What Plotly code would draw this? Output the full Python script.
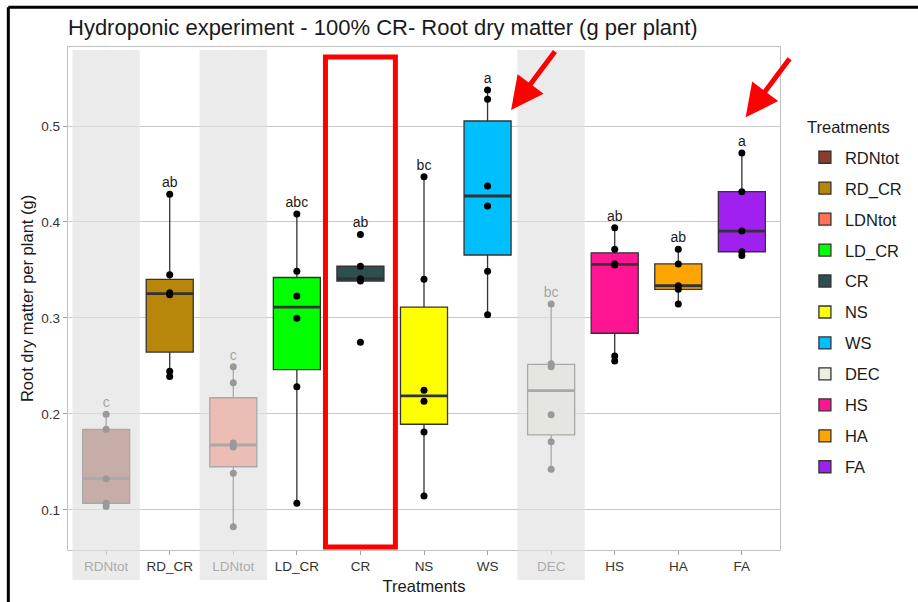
import plotly.graph_objects as go
import numpy as np

categories = ["RDNtot", "RD_CR", "LDNtot", "LD_CR", "CR", "NS", "WS", "DEC", "HS", "HA", "FA"]
rdntot = [0.1035, 0.107, 0.1326, 0.184, 0.1997]
rd_cr = [0.239, 0.2445, 0.3243, 0.3263, 0.345, 0.429]
ldntot = [0.0826, 0.1382, 0.1656, 0.1698, 0.2326, 0.2493]
ld_cr = [0.107, 0.2284, 0.2997, 0.3229, 0.3486, 0.4083]
cr = [0.2747, 0.3385, 0.341, 0.3539, 0.387]
ns = [0.1146, 0.1813, 0.2132, 0.2247, 0.3403, 0.4472]
ws = [0.3034, 0.3486, 0.4167, 0.4375, 0.5278, 0.5375]
dec = [0.1424, 0.1711, 0.1993, 0.2493, 0.2524, 0.3146]
hs = [0.2552, 0.2604, 0.3552, 0.3566, 0.3716, 0.394]
ha = [0.3146, 0.3299, 0.3336, 0.3563, 0.3716]
fa = [0.365, 0.369, 0.3905, 0.4316, 0.4719]
groups = [rdntot, rd_cr, ldntot, ld_cr, cr, ns, ws, dec, hs, ha, fa]
letters = ["c", "ab", "c", "abc", "ab", "bc", "a", "bc", "ab", "ab", "a"]
colors = ["#8B3E2F", "#B8860B", "#FF7256", "#00FF00", "#2F4F4F", "#FFFF00",
          "#00BFFF", "#EEEEE0", "#FF1493", "#FFA500", "#A020F0"]
greyed = ["RDNtot", "LDNtot", "DEC"]
highlight = "CR"
arrow_targets = ["WS", "FA"]

FONT = "Liberation Sans, Arial, sans-serif"
XR = [-0.6, len(categories) - 0.4]
YR = [0.0583, 0.5823]


def box_stats(vals):
    a = np.sort(np.asarray(vals, dtype=float))
    q1, med, q3 = np.percentile(a, [25, 50, 75])
    iqr = q3 - q1
    lo = a[a >= q1 - 1.5 * iqr].min()
    hi = a[a <= q3 + 1.5 * iqr].max()
    return float(q1), float(med), float(q3), float(min(lo, q1)), float(max(hi, q3))


fig = go.Figure()
for cat, vals, col in zip(categories, groups, colors):
    q1, med, q3, lo, hi = box_stats(vals)
    fig.add_trace(go.Box(
        x=[cat], q1=[q1], median=[med], q3=[q3], lowerfence=[lo], upperfence=[hi],
        name=cat, legendgroup=cat,
        fillcolor=col, line=dict(color="#333333", width=1.3),
        whiskerwidth=0, width=0.74, hoverinfo="skip",
    ))

# thick median lines
fig.add_trace(go.Scatter(
    x=categories, y=[box_stats(v)[1] for v in groups], mode="markers",
    marker=dict(symbol="line-ew", size=33.5, line=dict(color="#333333", width=2.8)),
    showlegend=False, hoverinfo="skip",
))
# points
px, py = [], []
for cat, vals in zip(categories, groups):
    px += [cat] * len(vals)
    py += vals
fig.add_trace(go.Scatter(
    x=px, y=py, mode="markers", marker=dict(color="black", size=7),
    showlegend=False, hoverinfo="skip",
))
# letters
fig.add_trace(go.Scatter(
    x=categories, y=[max(v) for v in groups], mode="markers+text",
    text=letters, textposition="top center",
    marker=dict(size=4, opacity=0),
    textfont=dict(family=FONT, size=14, color="#1a1a1a"),
    showlegend=False, hoverinfo="skip",
))


def xpaper(v):
    return (v - XR[0]) / (XR[1] - XR[0])


shapes = []
for cat in greyed:
    i = categories.index(cat)
    shapes.append(dict(type="rect", xref="paper", yref="paper",
                       x0=xpaper(i - 0.53), x1=xpaper(i + 0.53), y0=-0.0596, y1=0.994,
                       fillcolor="rgba(226,226,226,0.68)", line=dict(width=0), layer="above"))
ci = categories.index(highlight)
shapes.append(dict(type="rect", xref="x", yref="y", x0=ci - 0.55, x1=ci + 0.55,
                   y0=0.0615, y1=0.5719, line=dict(color="#FF0000", width=5),
                   fillcolor="rgba(0,0,0,0)", layer="above"))
# outer frame of screenshot (top and left edges)
shapes.append(dict(type="line", xref="paper", yref="paper", x0=-0.0838, x1=1.2,
                   y0=1.0789, y1=1.0789, line=dict(color="black", width=3)))
shapes.append(dict(type="line", xref="paper", yref="paper", x0=-0.0838, x1=-0.0838,
                   y0=1.0789, y1=-0.11, line=dict(color="black", width=3)))

annotations = []
for cat, dx, yv in zip(arrow_targets, [0.37, 0.06], [0.5167, 0.509]):
    i = categories.index(cat)
    annotations.append(dict(x=i + dx, y=yv, xref="x", yref="y", text="", showarrow=True,
                            ax=45, ay=-60, arrowcolor="#FF0000", arrowwidth=5,
                            arrowhead=2, arrowsize=1.3))
# legend title
annotations.append(dict(text="Treatments", xref="paper", yref="paper",
                        x=(805 - 68) / 712, y=(550 - 127) / 503, xanchor="left",
                        yanchor="middle", showarrow=False,
                        font=dict(size=16.5, color="#1a1a1a", family=FONT)))

fig.update_layout(
    width=918, height=602,
    margin=dict(l=68, r=138, t=47, b=52, autoexpand=False),
    paper_bgcolor="white", plot_bgcolor="white",
    boxmode="overlay",
    font=dict(family=FONT, color="#1a1a1a"),
    title=dict(text="Hydroponic experiment - 100% CR- Root dry matter (g per plant)",
               xref="paper", x=0, xanchor="left", yref="container", y=1 - 27 / 602,
               yanchor="middle", font=dict(size=22, color="#1a1a1a", family=FONT)),
    xaxis=dict(type="category", categoryorder="array", categoryarray=categories,
               range=XR, showgrid=False, zeroline=False, automargin=False,
               showline=True, mirror=True, linecolor="#c2c2c2", linewidth=1.3,
               ticks="outside", ticklen=4, tickcolor="#a0a0a0",
               tickfont=dict(size=13.5, color="#333333", family=FONT),
               title=dict(text="Treatments", font=dict(size=16.5, color="#1a1a1a"), standoff=7)),
    yaxis=dict(range=YR, tickvals=[0.1, 0.2, 0.3, 0.4, 0.5], tickformat=".1f",
               showgrid=True, gridcolor="#c8c8c8", gridwidth=1, zeroline=False,
               automargin=False,
               showline=True, mirror=True, linecolor="#c2c2c2", linewidth=1.3,
               ticks="outside", ticklen=4, tickcolor="#a0a0a0",
               tickfont=dict(size=13.5, color="#333333", family=FONT),
               title=dict(text="Root dry matter per plant (g)",
                          font=dict(size=16.5, color="#1a1a1a"), standoff=3)),
    legend=dict(x=1.035, xanchor="left", y=(550 - 140) / 503, yanchor="top",
                font=dict(size=16.5, color="#1a1a1a"), tracegroupgap=6.5,
                bgcolor="rgba(0,0,0,0)"),
    shapes=shapes, annotations=annotations,
)

fig.write_html("out.html")
